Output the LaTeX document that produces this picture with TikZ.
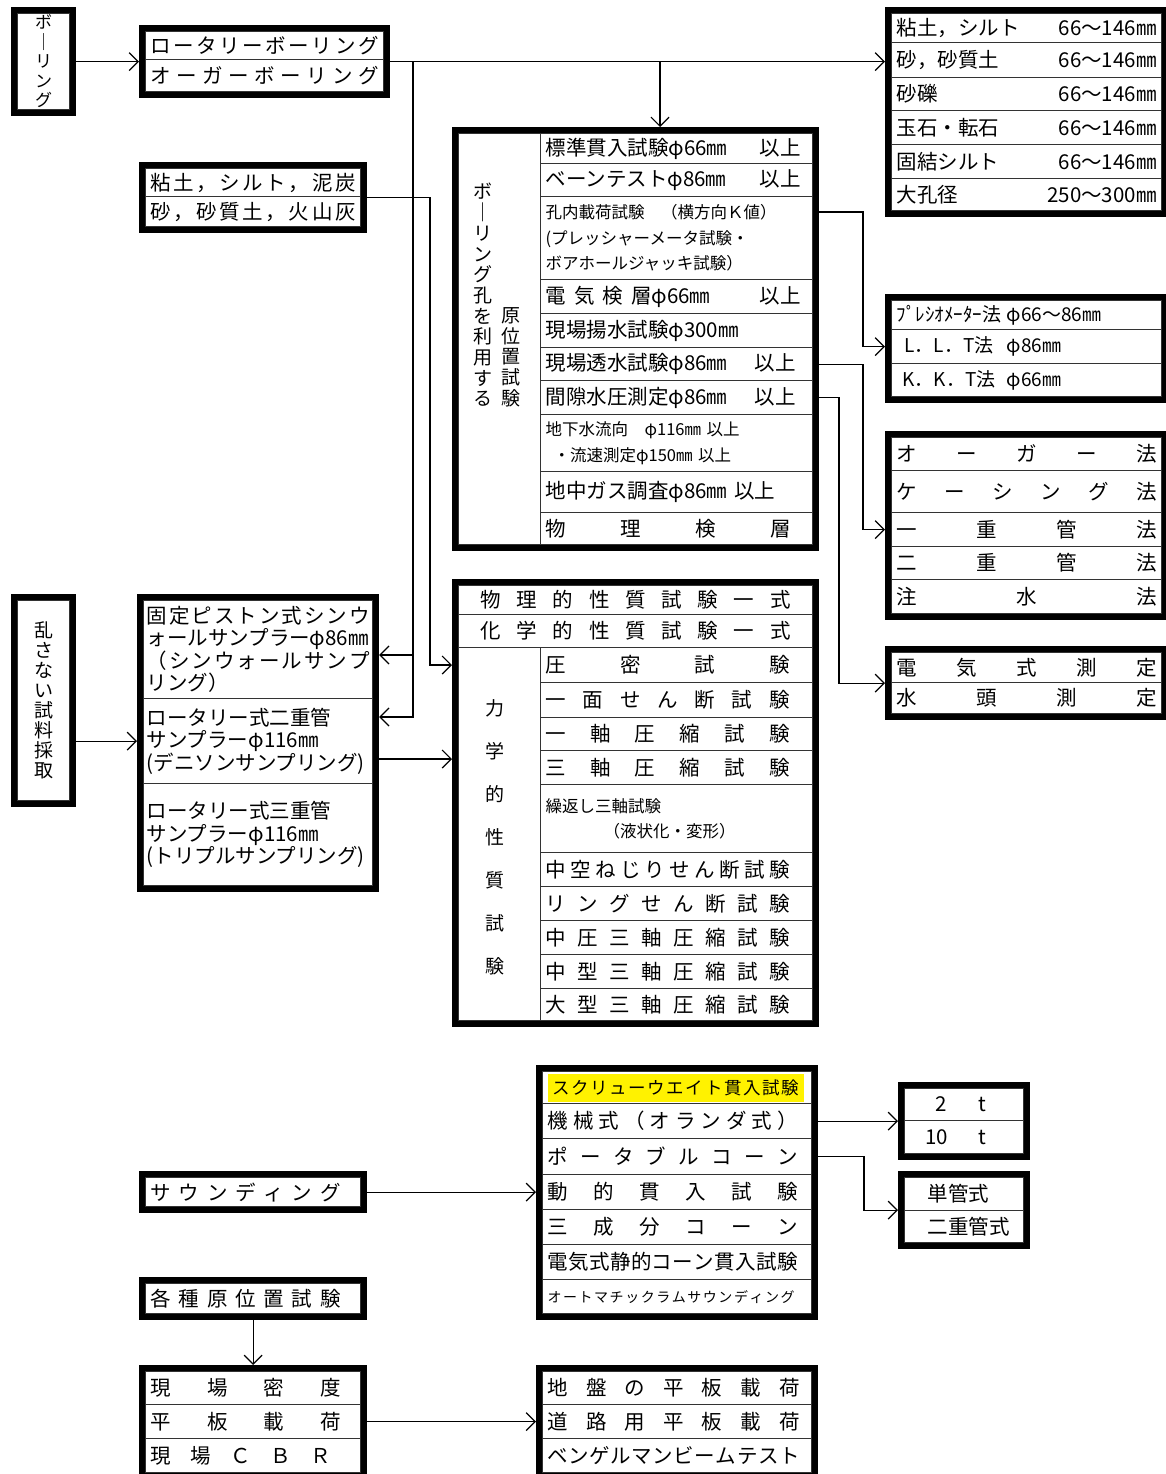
\documentclass[tikz,border=0pt]{standalone}
\usepackage{fontspec}
\setmainfont{Noto Sans CJK JP}
\usetikzlibrary{arrows.meta,fit}

\newcommand\fsm{\fontsize{20.5}{24}\selectfont}
\newcommand\fss{\fontsize{16.5}{25.5}\selectfont}
\newcommand\fsv{\fontsize{19}{20.7}\selectfont}
\newcommand\fsb{\fontsize{17}{19.5}\selectfont}
\newcommand\fsp{\fontsize{20.5}{22.5}\selectfont}

% spread the characters of #2 over the width #1
\makeatletter
\newcommand\sprd[2]{\makebox[#1]{\sprd@a#2\relax}}
\def\sprd@a#1{#1\sprd@b}
\def\sprd@b#1{\ifx#1\relax\else\hfill#1\expandafter\sprd@b\fi}
\makeatother
\newcommand\lrfill[3]{\makebox[#1]{#2\hfill#3}}

\tikzset{
  cell/.style={draw=black!80, line width=1.2pt, anchor=north west, inner xsep=5pt,
               inner ysep=0pt, align=left, font=\fsm},
  rc/.style={cell, text width=260pt},
  mc/.style={cell, text width=262pt},
  lc/.style={cell, text width=205pt},
  sc/.style={cell, text width=259pt},
  boxframe/.style={draw, line width=6pt, inner sep=3pt, fit=#1},
  vtxt/.style={align=center, inner sep=0pt, font=\fsv},
  arr/.style={line width=1.2pt, -{Straight Barb[length=9pt,width=18pt]}},
}

\begin{document}
\begin{tikzpicture}[x=1pt,y=-1pt]
  \path[fill=white, use as bounding box] (0,0) rectangle (1166,1474);

  % boring
  \node[cell, text width=42pt, minimum height=96pt, align=center, font=\fsb] (bor) at (17,13) {ボ\\｜\\リ\\ン\\グ};
  \node[boxframe={(bor)}] (borF) {};
  \node[lc, text width=228pt, minimum height=28pt] (rot1) at (145,31) {\sprd{228pt}{ロータリーボーリング}};
  \node[lc, text width=228pt, minimum height=32pt] (rot2) at (145,59) {\sprd{228pt}{オーガーボーリング}};
  \node[boxframe={(rot1)(rot2)}] (rotF) {};
  \node[lc, minimum height=28pt] (clay1) at (145,168) {\sprd{205pt}{粘土，シルト，泥炭}};
  \node[lc, minimum height=30pt] (clay2) at (145,196) {\sprd{205pt}{砂，砂質土，火山灰}};
  \node[boxframe={(clay1)(clay2)}] (clayF) {};

  % boring diameters
  \node[rc, minimum height=29pt] (tr1) at (891,13) {\lrfill{260pt}{粘土，シルト}{66～146㎜}};
  \node[rc, minimum height=35pt] (tr2) at (891,42) {\lrfill{260pt}{砂，砂質土}{66～146㎜}};
  \node[rc, minimum height=33pt] (tr3) at (891,77) {\lrfill{260pt}{砂礫}{66～146㎜}};
  \node[rc, minimum height=34pt] (tr4) at (891,110) {\lrfill{260pt}{玉石・転石}{66～146㎜}};
  \node[rc, minimum height=34pt] (tr5) at (891,144) {\lrfill{260pt}{固結シルト}{66～146㎜}};
  \node[rc, minimum height=32pt] (tr6) at (891,178) {\lrfill{260pt}{大孔径}{250～300㎜}};
  \node[boxframe={(tr1)(tr6)}] (trF) {};

  % in-situ tests in the bore hole
  \node[cell, text width=72pt, minimum height=411pt] (mL) at (458,133) {};
  \node[vtxt, anchor=south] (mv1) at (483,407) {ボ\\｜\\リ\\ン\\グ\\孔\\を\\利\\用\\す\\る};
  \node[vtxt, anchor=south] (mv2) at (511,407) {原\\位\\置\\試\\験};
  \node[mc, minimum height=30pt] (r1) at (540,133) {\lrfill{255pt}{標準貫入試験φ66㎜}{以上}};
  \node[mc, minimum height=33pt] (r2) at (540,163) {\lrfill{255pt}{ベーンテストφ86㎜}{以上}};
  \node[mc, minimum height=83pt, font=\fss] (r3) at (540,196) {孔内載荷試験　（横方向Ｋ値）\\(プレッシャーメータ試験・\\ボアホールジャッキ試験）};
  \node[mc, minimum height=34pt] (r4) at (540,279) {\lrfill{255pt}{\sprd{106pt}{電気検層}φ66㎜}{以上}};
  \node[mc, minimum height=34pt] (r5) at (540,313) {現場揚水試験φ300㎜};
  \node[mc, minimum height=33pt] (r6) at (540,347) {\lrfill{250pt}{現場透水試験φ86㎜}{以上}};
  \node[mc, minimum height=34pt] (r7) at (540,380) {\lrfill{250pt}{間隙水圧測定φ86㎜}{以上}};
  \node[mc, minimum height=57pt, font=\fss] (r8) at (540,414) {地下水流向　φ116㎜ 以上\\\hspace*{8pt}・流速測定φ150㎜ 以上};
  \node[mc, minimum height=41pt] (r9) at (540,471) {地中ガス調査φ86㎜ 以上};
  \node[mc, minimum height=32pt] (r10) at (540,512) {\sprd{245pt}{物理検層}};
  \node[boxframe={(mL)(r1)(r10)}] (midF) {};

  % pressuremeter, permeability, pore pressure
  \node[rc, minimum height=29pt, font=\fontsize{19}{23}\selectfont] (pre1) at (891,300) {\makebox[110pt][l]{ﾌﾟﾚｼｵﾒｰﾀｰ法}φ66～86㎜};
  \node[rc, minimum height=34pt, font=\fontsize{19}{23}\selectfont] (pre2) at (891,329) {\hspace*{8pt}\makebox[102pt][l]{L．L．T法}φ86㎜};
  \node[rc, minimum height=33pt, font=\fontsize{19}{23}\selectfont] (pre3) at (891,363) {\hspace*{6pt}\makebox[104pt][l]{K．K．T法}φ66㎜};
  \node[boxframe={(pre1)(pre3)}] (preF) {};
  \node[rc, minimum height=33pt] (aug1) at (891,437) {\sprd{260pt}{オーガー法}};
  \node[rc, minimum height=42pt] (aug2) at (891,470) {\sprd{260pt}{ケーシング法}};
  \node[rc, minimum height=34pt] (aug3) at (891,512) {\sprd{260pt}{一重管法}};
  \node[rc, minimum height=33pt] (aug4) at (891,546) {\sprd{260pt}{二重管法}};
  \node[rc, minimum height=34pt] (aug5) at (891,579) {\sprd{260pt}{注水法}};
  \node[boxframe={(aug1)(aug5)}] (augF) {};
  \node[rc, minimum height=30pt] (ele1) at (891,652) {\sprd{260pt}{電気式測定}};
  \node[rc, minimum height=31pt] (ele2) at (891,682) {\sprd{260pt}{水頭測定}};
  \node[boxframe={(ele1)(ele2)}] (eleF) {};

  % undisturbed sampling
  \node[cell, text width=42pt, minimum height=200pt, align=center, font=\fontsize{19}{20}\selectfont] (und) at (17,600) {乱\\さ\\な\\い\\試\\料\\採\\取};
  \node[boxframe={(und)}] (undF) {};
  \node[cell, inner xsep=3pt, text width=223pt, minimum height=98pt, font=\fsp] (smp1) at (143,600) {\sprd{223pt}{固定ピストン式シンウ}\\ォールサンプラーφ86㎜\\\sprd{223pt}{（シンウォールサンプ}\\リング）};
  \node[cell, inner xsep=3pt, text width=223pt, minimum height=85pt, font=\fsp] (smp2) at (143,698) {ロータリー式二重管\\サンプラーφ116㎜\\(デニソンサンプリング)};
  \node[cell, inner xsep=3pt, text width=223pt, minimum height=102pt, font=\fsp] (smp3) at (143,783) {ロータリー式三重管\\サンプラーφ116㎜\\(トリプルサンプリング)};
  \node[boxframe={(smp1)(smp3)}] (smpF) {};

  % laboratory tests
  \node[cell, text width=344pt, minimum height=29pt, align=center] (p1) at (458,585) {\sprd{310pt}{物理的性質試験一式}};
  \node[cell, text width=344pt, minimum height=33pt, align=center] (p2) at (458,614) {\sprd{310pt}{化学的性質試験一式}};
  \node[cell, text width=72pt, minimum height=373pt] (lL) at (458,647) {};
  \node[vtxt, font=\fontsize{19}{43}\selectfont] (lv) at (495,837) {力\\学\\的\\性\\質\\試\\験};
  \node[mc, minimum height=35pt] (q1) at (540,647) {\sprd{244pt}{圧密試験}};
  \node[mc, minimum height=35pt] (q2) at (540,682) {\sprd{244pt}{一面せん断試験}};
  \node[mc, minimum height=33pt] (q3) at (540,717) {\sprd{244pt}{一軸圧縮試験}};
  \node[mc, minimum height=34pt] (q4) at (540,750) {\sprd{244pt}{三軸圧縮試験}};
  \node[mc, minimum height=68pt, font=\fss] (q5) at (540,784) {繰返し三軸試験\\\hspace*{58pt}（液状化・変形）};
  \node[mc, minimum height=34pt] (q6) at (540,852) {\sprd{244pt}{中空ねじりせん断試験}};
  \node[mc, minimum height=34pt] (q7) at (540,886) {\sprd{244pt}{リングせん断試験}};
  \node[mc, minimum height=34pt] (q8) at (540,920) {\sprd{244pt}{中圧三軸圧縮試験}};
  \node[mc, minimum height=34pt] (q9) at (540,954) {\sprd{244pt}{中型三軸圧縮試験}};
  \node[mc, minimum height=32pt] (q10) at (540,988) {\sprd{244pt}{大型三軸圧縮試験}};
  \node[boxframe={(p1)(lL)(q10)}] (lowF) {};

  % sounding
  \node[lc, minimum height=29pt] (snd) at (145,1177) {\sprd{190pt}{サウンディング}};
  \node[boxframe={(snd)}] (sndF) {};
  \node[sc, minimum height=32pt, font=\fontsize{17.5}{21}\selectfont] (sd1) at (542,1071) {{\setlength{\fboxsep}{0pt}\colorbox{yellow}{\makebox[256pt]{\rule[-7pt]{0pt}{28pt}\sprd{247pt}{スクリューウエイト貫入試験}}}}};
  \node[sc, minimum height=35pt] (sd2) at (542,1103) {\sprd{250pt}{機械式（オランダ式）}};
  \node[sc, minimum height=36pt] (sd3) at (542,1138) {\sprd{250pt}{ポータブルコーン}};
  \node[sc, minimum height=35pt] (sd4) at (542,1174) {\sprd{250pt}{動的貫入試験}};
  \node[sc, minimum height=35pt] (sd5) at (542,1209) {\sprd{250pt}{三成分コーン}};
  \node[sc, minimum height=35pt] (sd6) at (542,1244) {\sprd{250pt}{電気式静的コーン貫入試験}};
  \node[sc, minimum height=34pt, font=\fontsize{14}{17}\selectfont] (sd7) at (542,1279) {\sprd{247pt}{オートマチックラムサウンディング}};
  \node[boxframe={(sd1)(sd7)}] (sdF) {};
  \node[cell, text width=109pt, minimum height=32pt] (ton1) at (904,1088) {\hspace*{26pt}\makebox[43pt][l]{2}t};
  \node[cell, text width=109pt, minimum height=33pt] (ton2) at (904,1120) {\hspace*{16pt}\makebox[53pt][l]{10}t};
  \node[boxframe={(ton1)(ton2)}] (tonF) {};
  \node[cell, text width=109pt, minimum height=33pt] (tub1) at (904,1177) {\hspace*{18pt}単管式};
  \node[cell, text width=109pt, minimum height=32pt] (tub2) at (904,1210) {\hspace*{18pt}二重管式};
  \node[boxframe={(tub1)(tub2)}] (tubF) {};

  % other in-situ tests
  \node[lc, minimum height=30pt] (var) at (145,1283) {\sprd{190pt}{各種原位置試験}};
  \node[boxframe={(var)}] (varF) {};
  \node[lc, minimum height=33pt] (fld1) at (145,1371) {\sprd{190pt}{現場密度}};
  \node[lc, minimum height=34pt] (fld2) at (145,1404) {\sprd{190pt}{平板載荷}};
  \node[lc, minimum height=34pt] (fld3) at (145,1438) {\sprd{180pt}{現場ＣＢＲ}};
  \node[boxframe={(fld1)(fld3)}] (fldF) {};
  \node[sc, minimum height=33pt] (pl1) at (542,1371) {\sprd{252pt}{地盤の平板載荷}};
  \node[sc, minimum height=34pt] (pl2) at (542,1404) {\sprd{252pt}{道路用平板載荷}};
  \node[sc, minimum height=34pt] (pl3) at (542,1438) {\sprd{252pt}{ベンゲルマンビームテスト}};
  \node[boxframe={(pl1)(pl3)}] (plF) {};

  % connectors
  \coordinate (jA) at (413,655);
  \coordinate (jB) at (413,717);
  \coordinate (jC) at (660,100);
  \coordinate (jD) at (430,665);
  \coordinate (jE) at (0,759);
  \coordinate (jF) at (863,212);
  \coordinate (jG) at (839,398);
  \coordinate (jH) at (864,1156);

  \draw[arr] (borF.east) -- (borF.east -| rotF.west);
  \draw[arr] (rotF.east) -- (rotF.east -| trF.west);
  \draw[arr] (rotF.east -| jC) -- (jC |- midF.north);
  \draw[arr] (rotF.east -| jA) -- (jB) -- (jB -| smpF.east);
  \draw[arr] (jA) -- (jA -| smpF.east);
  \draw[arr] (clayF.east) -| (jD) -- (jD -| lowF.west);
  \draw[arr] (undF.east |- smp2) -- (smpF.west |- smp2);
  \draw[arr] (smpF.east |- jE) -- (lowF.west |- jE);
  \draw[arr] (midF.east |- jF) -| (jF |- pre2) -- (preF.west |- pre2);
  \draw[arr] (midF.east |- r6) -| (jF |- aug3) -- (augF.west |- aug3);
  \draw[arr] (midF.east |- r7) -| (jG |- eleF) -- (eleF.west);
  \draw[arr] (sndF.east) -- (sndF.east -| sdF.west);
  \draw[arr] (sdF.east |- sd2) -- (tonF.west |- sd2);
  \draw[arr] (sdF.east |- sd3) -| (jH |- tubF) -- (tubF.west);
  \draw[arr] (varF.south) -- (varF.south |- fldF.north);
  \draw[arr] (fldF.east |- fld2) -- (plF.west |- fld2);
\end{tikzpicture}
\end{document}
